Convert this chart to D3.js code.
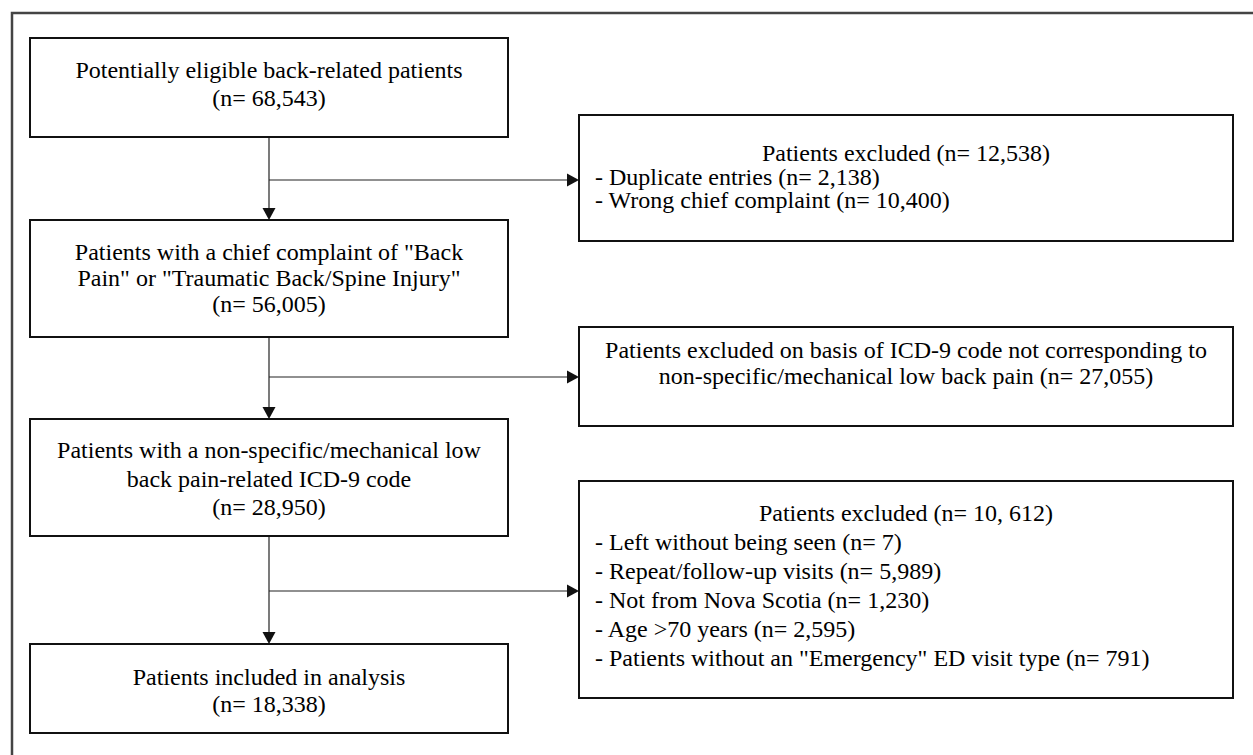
<!DOCTYPE html>
<html>
<head>
<meta charset="utf-8">
<script src="https://cdn.jsdelivr.net/npm/d3@7"></script>
<style>
body{margin:0;background:#fff}
svg{display:block}
text{font-family:"Liberation Serif","Times New Roman",serif;fill:#000}
</style>
</head>
<body>
<svg id="svg1" width="1253" height="755"></svg>
<script>
// main flow, left column
var stepText = [
  ["Potentially eligible back-related patients"],
  ["Patients with a chief complaint of \"Back", "Pain\" or \"Traumatic Back/Spine Injury\""],
  ["Patients with a non-specific/mechanical low", "back pain-related ICD-9 code"],
  ["Patients included in analysis"]
]
var stepN = ["68,543", "56,005", "28,950", "18,338"]

// exclusions, right column
var exclHead = [
  ["Patients excluded (n= 12,538)"],
  ["Patients excluded on basis of ICD-9 code not corresponding to", "non-specific/mechanical low back pain (n= 27,055)"],
  ["Patients excluded (n= 10, 612)"]
]
var exclItems = [
  ["Duplicate entries (n= 2,138)", "Wrong chief complaint (n= 10,400)"],
  [],
  ["Left without being seen (n= 7)", "Repeat/follow-up visits (n= 5,989)", "Not from Nova Scotia (n= 1,230)",
   "Age >70 years (n= 2,595)", "Patients without an \"Emergency\" ED visit type (n= 791)"]
]

// layout (pixels)
var leftX = [30, 508]
var stepY = [[38, 137], [220, 337], [419, 536], [644, 733]]
var stepLine1 = [70, 252, 450, 677]
var stepLH = [28, 26, 28.5, 26.5]

var rightX = [579, 1233]
var exclY = [[115, 241], [327, 426], [481, 698]]
var exclLine1 = [153, 350, 513]
var exclLH = [23.5, 26, 29]
var branchY = [180, 377, 591]

var svg = d3.select("#svg1")
var fs = 24
var cx = (leftX[0] + leftX[1]) / 2
var rcx = (rightX[0] + rightX[1]) / 2

// outer frame, runs off the picture at right and bottom
svg.append("rect")
  .attr("x", 12).attr("y", 13)
  .attr("width", 1300).attr("height", 800)
  .attr("fill", "none").attr("stroke", "#444").attr("stroke-width", 2.5)

function box(x0, x1, y0, y1){
  svg.append("rect")
    .attr("x", x0).attr("y", y0)
    .attr("width", x1 - x0).attr("height", y1 - y0)
    .attr("fill", "#fff").attr("stroke", "#111").attr("stroke-width", 2)
}

function arrowDown(x, y){
  svg.append("path")
    .attr("d", d3.line()([[x - 6.5, y - 12], [x + 6.5, y - 12], [x, y]]) + "Z")
    .attr("fill", "#111")
}
function arrowRight(x, y){
  svg.append("path")
    .attr("d", d3.line()([[x - 12, y - 6.5], [x - 12, y + 6.5], [x, y]]) + "Z")
    .attr("fill", "#111")
}

// connectors
for(var i = 0; i < stepY.length - 1; i++){
  svg.append("path")
    .attr("d", d3.line()([[cx, stepY[i][1]], [cx, stepY[i+1][0] - 10]]))
    .attr("stroke", "#222").attr("stroke-width", 1.2).attr("fill", "none")
  arrowDown(cx, stepY[i+1][0])
  svg.append("path")
    .attr("d", d3.line()([[cx, branchY[i]], [rightX[0] - 10, branchY[i]]]))
    .attr("stroke", "#222").attr("stroke-width", 1.2).attr("fill", "none")
  arrowRight(rightX[0], branchY[i])
}

// left boxes
stepText.forEach(function(lines, i){
  box(leftX[0], leftX[1], stepY[i][0], stepY[i][1])
  var all = lines.concat(["(n= " + stepN[i] + ")"])
  svg.selectAll(null).data(all).enter().append("text")
    .attr("x", cx)
    .attr("y", function(d, j){ return stepLine1[i] + j * stepLH[i] })
    .attr("dy", "0.35em")
    .attr("text-anchor", "middle")
    .style("font-size", fs + "px")
    .text(function(d){ return d })
})

// right boxes
exclHead.forEach(function(lines, i){
  box(rightX[0], rightX[1], exclY[i][0], exclY[i][1])
  svg.selectAll(null).data(lines).enter().append("text")
    .attr("x", rcx)
    .attr("y", function(d, j){ return exclLine1[i] + j * exclLH[i] })
    .attr("dy", "0.35em")
    .attr("text-anchor", "middle")
    .style("font-size", fs + "px")
    .text(function(d){ return d })
  var n0 = lines.length
  svg.selectAll(null).data(exclItems[i]).enter().append("text")
    .attr("x", rightX[0] + 16)
    .attr("y", function(d, j){ return exclLine1[i] + (j + n0) * exclLH[i] })
    .attr("dy", "0.35em")
    .style("font-size", fs + "px")
    .text(function(d){ return "- " + d })
})
</script>
</body>
</html>
